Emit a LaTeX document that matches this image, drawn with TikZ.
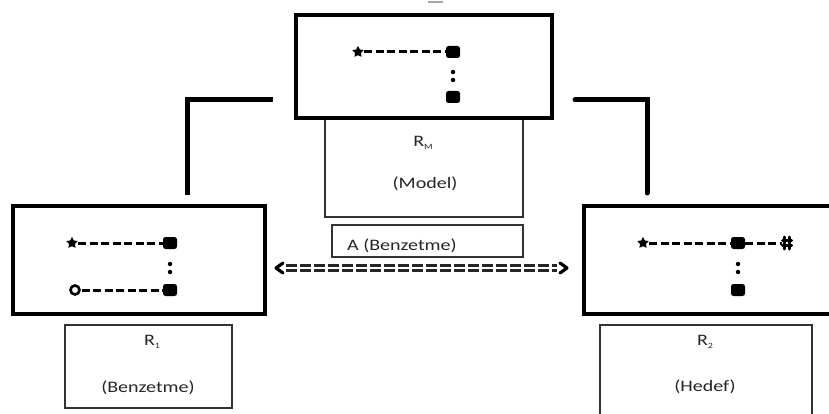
\documentclass[tikz,border=0pt]{standalone}
\usepackage{fontspec}
\setmainfont{Carlito}
\newfontfamily\lblfont[FakeStretch=1.25]{Carlito}
\usetikzlibrary{shapes.geometric,calc}

\tikzset{
  frame/.style={draw=black, line width=4.5pt, fill=white},
  thinbox/.style={draw=black!80, line width=1.3pt, fill=white},
  lbl/.style={font=\lblfont\fontsize{16}{18}\selectfont, text=black!85, inner sep=0pt},
  linkline/.style={line width=5pt, line cap=round},
  sq/.style={fill=black, rounded corners=2.5pt, minimum width=14pt, minimum height=12pt, inner sep=0pt},
  starmark/.style={star, star points=5, star point ratio=1.9, fill=black, minimum size=12pt, inner sep=0pt},
  ringmark/.style={circle, draw=black, line width=2.6pt, minimum size=9pt, inner sep=0pt},
  dot/.style={circle, fill=black, minimum size=4.5pt, inner sep=0pt},
  hashmark/.style={minimum width=10pt, minimum height=14pt, inner sep=0pt},
  hashstroke/.style={line width=3pt, line cap=round},
  dashlink/.style={line width=3pt, dash pattern=on 8pt off 3.5pt},
  eqbar/.style={line width=3pt, draw=black!85, dash pattern=on 11pt off 3pt},
  chev/.style={line width=3.2pt, line cap=round, line join=round},
}

% a vertical colon made of two dots
\newcommand{\vdotspair}[2]{%
  \node[dot] (#1a) at ($(#2)+(0,-4)$) {};
  \node[dot] (#1b) at ($(#2)+(0,4)$) {};
}

\begin{document}
\begin{tikzpicture}[x=1pt, y=-1pt]
\useasboundingbox (0,0) rectangle (829,414);
\clip (0,0) rectangle (829,414);

% faint stroke at the very top
\draw[black!35, line width=1.2pt] (428,2) -- (443,2);

% ---- model label box (partly under the top frame)
\node[thinbox, minimum width=198pt, minimum height=117pt] (rmbox) at (424,158.5) {};
\node[lbl] (rmname) at (423,143) {R\raisebox{-0.3ex}{\fontsize{8}{9}\selectfont M}};
\node[lbl] (rmtext) at (425,184) {(Model)};

% ---- top frame
\node[frame, minimum width=256pt, minimum height=103pt] (top) at (424,66.5) {};
\node[starmark] (ts) at (358,52) {};
\node[sq] (tq1) at (453,52) {};
\node[sq] (tq2) at (453,97) {};
\coordinate (tc) at (453,76);
\vdotspair{tcol}{tc}
\draw[dashlink, shorten <=2pt] (ts.east) -- (tq1.west);

% ---- comparison label box
\node[thinbox, minimum width=191pt, minimum height=32pt] (abox) at (427.5,241) {};
\node[lbl, anchor=west] (atext) at (347,246) {A (Benzetme)};

% ---- left frame
\node[frame, minimum width=252pt, minimum height=108pt] (left) at (139,260) {};
\node[starmark] (ls) at (72,243) {};
\node[sq] (lq1) at (170,243) {};
\node[sq] (lq2) at (170,290) {};
\node[ringmark] (lo) at (75,290) {};
\coordinate (lc) at (170,268);
\vdotspair{lcol}{lc}
\draw[dashlink, shorten <=2pt] (ls.east) -- (lq1.west);
\draw[dashlink, shorten <=1pt] (lo.east) -- (lq2.west);

% ---- right frame
\node[frame, minimum width=256pt, minimum height=108pt] (right) at (712,260) {};
\node[starmark] (rs) at (643,243) {};
\node[sq] (rq1) at (738,243) {};
\node[sq] (rq2) at (738,290) {};
\node[hashmark] (rh) at (787,243) {};
\draw[hashstroke] ($(rh.center)+(-2.2,-6)$) -- ($(rh.center)+(-2.2,6)$);
\draw[hashstroke] ($(rh.center)+(2.2,-6)$) -- ($(rh.center)+(2.2,6)$);
\draw[hashstroke] ($(rh.center)+(-4.5,-2.5)$) -- ($(rh.center)+(4.5,-2.5)$);
\draw[hashstroke] ($(rh.center)+(-4.5,2.5)$) -- ($(rh.center)+(4.5,2.5)$);
\coordinate (rc) at (738,268);
\vdotspair{rcol}{rc}
\draw[dashlink, shorten <=2pt] (rs.east) -- (rq1.west);
\draw[dashlink] (rq1.east) -- (rh.west);

% ---- bottom label boxes
\node[thinbox, minimum width=167pt, minimum height=83pt] (r1box) at (148.5,366.5) {};
\node[lbl] (r1name) at (152,342) {R\raisebox{-0.3ex}{\fontsize{8}{9}\selectfont 1}};
\node[lbl] (r1text) at (148,388) {(Benzetme)};

\node[thinbox, minimum width=212pt, minimum height=95pt] (r2box) at (706,372.5) {};
\node[lbl] (r2name) at (705,342) {R\raisebox{-0.3ex}{\fontsize{8}{9}\selectfont 2}};
\node[lbl] (r2text) at (705,387) {(Hedef)};

% ---- connectors from the top frame down to the side frames
\coordinate (lstart) at (273,100);
\coordinate (lbend) at (187,100);
\coordinate (lend) at (187,195);
\draw[linkline, line cap=butt] (lstart) -- (lbend) -- (lend);
\coordinate (rstart) at (575,100);
\coordinate (rbend) at (647,100);
\coordinate (rend) at (647,193);
\draw[linkline] (rstart) -- (rbend) -- (rend);

% ---- double-dashed two-way link between side frames
\coordinate (ltip) at (276,268);
\coordinate (rtip) at (567,268);
\draw[chev] ($(ltip)+(7,-5)$) -- (ltip) -- ($(ltip)+(7,5)$);
\draw[chev] ($(rtip)+(-7,-5)$) -- (rtip) -- ($(rtip)+(-7,5)$);
\draw[eqbar] ($(ltip)+(10,-2.7)$) -- ($(rtip)+(-10,-2.7)$);
\draw[eqbar] ($(ltip)+(10,2.7)$) -- ($(rtip)+(-10,2.7)$);
\end{tikzpicture}
\end{document}
